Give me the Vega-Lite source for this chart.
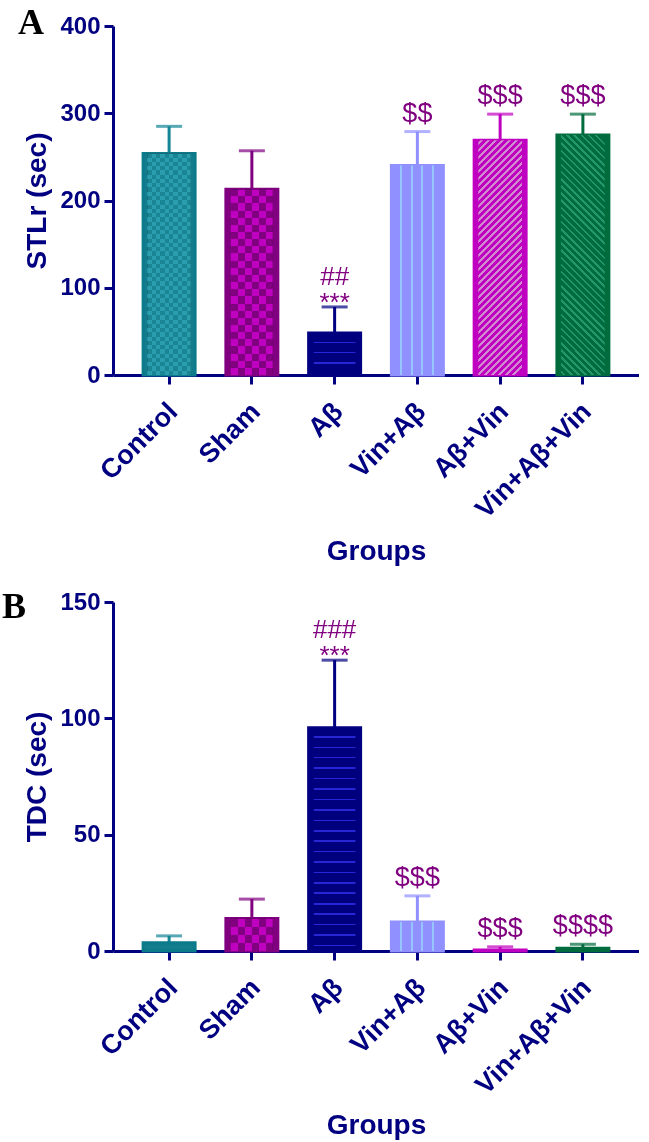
{
  "$schema": "https://vega.github.io/schema/vega-lite/v6.json",
  "padding": {"left": 1, "top": 5, "right": 0, "bottom": 0},
  "spacing": 23,
  "config": {
    "view": {"stroke": null},
    "axis": {
      "grid": false,
      "domainColor": "#000080", "domainWidth": 3,
      "tickColor": "#000080", "tickWidth": 3, "tickSize": 9,
      "labelColor": "#000080", "titleColor": "#000080",
      "labelFont": "Liberation Sans", "titleFont": "Liberation Sans",
      "labelFontWeight": "bold", "titleFontWeight": "bold"
    },
    "title": {"font": "Liberation Serif", "fontWeight": "bold", "fontSize": 36, "color": "#000000"}
  },
  "datasets": {
    "stlr": [
      {"group": "Control", "mean": 254, "hi": 285, "sig": "", "star": "", "hash": ""},
      {"group": "Sham", "mean": 213, "hi": 257, "sig": "", "star": "", "hash": ""},
      {"group": "Aβ", "mean": 48, "hi": 78, "sig": "", "star": "***", "hash": "##"},
      {"group": "Vin+Aβ", "mean": 240, "hi": 279, "sig": "$$", "star": "", "hash": ""},
      {"group": "Aβ+Vin", "mean": 269, "hi": 299, "sig": "$$$", "star": "", "hash": ""},
      {"group": "Vin+Aβ+Vin", "mean": 275, "hi": 299, "sig": "$$$", "star": "", "hash": ""}
    ],
    "tdc": [
      {"group": "Control", "mean": 3.5, "hi": 6.5, "sig": "", "star": "", "hash": ""},
      {"group": "Sham", "mean": 14, "hi": 22.3, "sig": "", "star": "", "hash": ""},
      {"group": "Aβ", "mean": 96, "hi": 125, "sig": "", "star": "***", "hash": "###"},
      {"group": "Vin+Aβ", "mean": 12.5, "hi": 23.7, "sig": "$$$", "star": "", "hash": ""},
      {"group": "Aβ+Vin", "mean": 0.4, "hi": 1.8, "sig": "$$$", "star": "", "hash": ""},
      {"group": "Vin+Aβ+Vin", "mean": 1.2, "hi": 2.9, "sig": "$$$$", "star": "", "hash": ""}
    ]
  },
  "vconcat": [
    {
      "width": 526, "height": 349,
      "title": {"text": "A", "anchor": "start", "frame": "bounds", "offset": -28, "dx": -6},
      "data": {"name": "stlr"},
      "encoding": {
        "x": {
          "field": "group", "type": "nominal", "sort": null,
          "scale": {"paddingInner": 0.372, "paddingOuter": 0.364},
          "axis": {"title": "Groups", "labelAngle": -45, "labelFontSize": 27, "labelPadding": 14, "labelOffset": -5, "titleFontSize": 28, "titlePadding": 15}
        }
      },
      "layer": [
        {
          "mark": {"type": "rule", "strokeWidth": 3},
          "encoding": {
            "y": {"field": "mean", "type": "quantitative", "title": "STLr (sec)"},
            "y2": {"field": "hi"},
            "color": {"field": "group", "type": "nominal", "sort": null, "legend": null,
              "scale": {"domain": ["Control", "Sham", "Aβ", "Vin+Aβ", "Aβ+Vin", "Vin+Aβ+Vin"],
                        "range": ["#138595", "#800080", "#000080", "#9090FF", "#C000C0", "#006B3C"]}}
          }
        },
        {
          "mark": {"type": "tick", "thickness": 3, "size": 26},
          "encoding": {
            "y": {"field": "hi", "type": "quantitative", "title": "STLr (sec)"},
            "color": {"field": "group", "type": "nominal", "sort": null, "legend": null}
          }
        },
        {
          "mark": {"type": "bar", "strokeWidth": 3},
          "encoding": {
            "y": {"field": "mean", "type": "quantitative", "title": "STLr (sec)",
              "scale": {"domain": [0, 400], "nice": false},
              "axis": {"values": [0, 100, 200, 300, 400], "labelFontSize": 24, "labelPadding": 4, "titleFontSize": 28, "titlePadding": 8}},
            "fill": {"field": "group", "type": "nominal", "sort": null, "legend": null,
              "scale": {"domain": ["Control", "Sham", "Aβ", "Vin+Aβ", "Aβ+Vin", "Vin+Aβ+Vin"],
                        "range": ["#137D8D", "#800080", "#00007E", "#9090FF", "#C000C0", "#006B3C"]}},
            "stroke": {"field": "group", "type": "nominal", "sort": null, "legend": null,
              "scale": {"domain": ["Control", "Sham", "Aβ", "Vin+Aβ", "Aβ+Vin", "Vin+Aβ+Vin"],
                        "range": ["#0B7A8A", "#800080", "#000080", "#9090FF", "#C000C0", "#006B3C"]}}
          }
        },
        {
          "transform": [{"filter": "datum.group === 'Control'"}],
          "mark": {"type": "bar", "width": {"band": 0.84},
            "fill": {"gradient": "linear", "x1": 0, "y1": 0, "x2": 1, "y2": 0, "stops": [
              {"offset": 0, "color": "#2A9DAE"}, {"offset": 0.1, "color": "#2A9DAE"}, {"offset": 0.1, "color": "#000000"},
              {"offset": 0.2, "color": "#000000"}, {"offset": 0.2, "color": "#2A9DAE"}, {"offset": 0.3, "color": "#2A9DAE"},
              {"offset": 0.3, "color": "#000000"}, {"offset": 0.4, "color": "#000000"}, {"offset": 0.4, "color": "#2A9DAE"},
              {"offset": 0.5, "color": "#2A9DAE"}, {"offset": 0.5, "color": "#000000"}, {"offset": 0.6, "color": "#000000"},
              {"offset": 0.6, "color": "#2A9DAE"}, {"offset": 0.7, "color": "#2A9DAE"}, {"offset": 0.7, "color": "#000000"},
              {"offset": 0.8, "color": "#000000"}, {"offset": 0.8, "color": "#2A9DAE"}, {"offset": 0.9, "color": "#2A9DAE"},
              {"offset": 0.9, "color": "#000000"}, {"offset": 1, "color": "#000000"}
            ]}},
          "encoding": {"y": {"field": "mean", "type": "quantitative", "title": "STLr (sec)"}}
        },
        {
          "transform": [{"filter": "datum.group === 'Control'"}],
          "mark": {"type": "bar", "width": {"band": 0.84}, "blend": "difference",
            "fill": {"gradient": "linear", "x1": 0, "y1": 0, "x2": 0, "y2": 1, "stops": [
              {"offset": 0, "color": "#2A9DAE"}, {"offset": 0.0192, "color": "#2A9DAE"}, {"offset": 0.0192, "color": "#000000"},
              {"offset": 0.0385, "color": "#000000"}, {"offset": 0.0385, "color": "#2A9DAE"}, {"offset": 0.0577, "color": "#2A9DAE"},
              {"offset": 0.0577, "color": "#000000"}, {"offset": 0.0769, "color": "#000000"}, {"offset": 0.0769, "color": "#2A9DAE"},
              {"offset": 0.0962, "color": "#2A9DAE"}, {"offset": 0.0962, "color": "#000000"}, {"offset": 0.1154, "color": "#000000"},
              {"offset": 0.1154, "color": "#2A9DAE"}, {"offset": 0.1346, "color": "#2A9DAE"}, {"offset": 0.1346, "color": "#000000"},
              {"offset": 0.1538, "color": "#000000"}, {"offset": 0.1538, "color": "#2A9DAE"}, {"offset": 0.1731, "color": "#2A9DAE"},
              {"offset": 0.1731, "color": "#000000"}, {"offset": 0.1923, "color": "#000000"}, {"offset": 0.1923, "color": "#2A9DAE"},
              {"offset": 0.2115, "color": "#2A9DAE"}, {"offset": 0.2115, "color": "#000000"}, {"offset": 0.2308, "color": "#000000"},
              {"offset": 0.2308, "color": "#2A9DAE"}, {"offset": 0.25, "color": "#2A9DAE"}, {"offset": 0.25, "color": "#000000"},
              {"offset": 0.2692, "color": "#000000"}, {"offset": 0.2692, "color": "#2A9DAE"}, {"offset": 0.2885, "color": "#2A9DAE"},
              {"offset": 0.2885, "color": "#000000"}, {"offset": 0.3077, "color": "#000000"}, {"offset": 0.3077, "color": "#2A9DAE"},
              {"offset": 0.3269, "color": "#2A9DAE"}, {"offset": 0.3269, "color": "#000000"}, {"offset": 0.3462, "color": "#000000"},
              {"offset": 0.3462, "color": "#2A9DAE"}, {"offset": 0.3654, "color": "#2A9DAE"}, {"offset": 0.3654, "color": "#000000"},
              {"offset": 0.3846, "color": "#000000"}, {"offset": 0.3846, "color": "#2A9DAE"}, {"offset": 0.4038, "color": "#2A9DAE"},
              {"offset": 0.4038, "color": "#000000"}, {"offset": 0.4231, "color": "#000000"}, {"offset": 0.4231, "color": "#2A9DAE"},
              {"offset": 0.4423, "color": "#2A9DAE"}, {"offset": 0.4423, "color": "#000000"}, {"offset": 0.4615, "color": "#000000"},
              {"offset": 0.4615, "color": "#2A9DAE"}, {"offset": 0.4808, "color": "#2A9DAE"}, {"offset": 0.4808, "color": "#000000"},
              {"offset": 0.5, "color": "#000000"}, {"offset": 0.5, "color": "#2A9DAE"}, {"offset": 0.5192, "color": "#2A9DAE"},
              {"offset": 0.5192, "color": "#000000"}, {"offset": 0.5385, "color": "#000000"}, {"offset": 0.5385, "color": "#2A9DAE"},
              {"offset": 0.5577, "color": "#2A9DAE"}, {"offset": 0.5577, "color": "#000000"}, {"offset": 0.5769, "color": "#000000"},
              {"offset": 0.5769, "color": "#2A9DAE"}, {"offset": 0.5962, "color": "#2A9DAE"}, {"offset": 0.5962, "color": "#000000"},
              {"offset": 0.6154, "color": "#000000"}, {"offset": 0.6154, "color": "#2A9DAE"}, {"offset": 0.6346, "color": "#2A9DAE"},
              {"offset": 0.6346, "color": "#000000"}, {"offset": 0.6538, "color": "#000000"}, {"offset": 0.6538, "color": "#2A9DAE"},
              {"offset": 0.6731, "color": "#2A9DAE"}, {"offset": 0.6731, "color": "#000000"}, {"offset": 0.6923, "color": "#000000"},
              {"offset": 0.6923, "color": "#2A9DAE"}, {"offset": 0.7115, "color": "#2A9DAE"}, {"offset": 0.7115, "color": "#000000"},
              {"offset": 0.7308, "color": "#000000"}, {"offset": 0.7308, "color": "#2A9DAE"}, {"offset": 0.75, "color": "#2A9DAE"},
              {"offset": 0.75, "color": "#000000"}, {"offset": 0.7692, "color": "#000000"}, {"offset": 0.7692, "color": "#2A9DAE"},
              {"offset": 0.7885, "color": "#2A9DAE"}, {"offset": 0.7885, "color": "#000000"}, {"offset": 0.8077, "color": "#000000"},
              {"offset": 0.8077, "color": "#2A9DAE"}, {"offset": 0.8269, "color": "#2A9DAE"}, {"offset": 0.8269, "color": "#000000"},
              {"offset": 0.8462, "color": "#000000"}, {"offset": 0.8462, "color": "#2A9DAE"}, {"offset": 0.8654, "color": "#2A9DAE"},
              {"offset": 0.8654, "color": "#000000"}, {"offset": 0.8846, "color": "#000000"}, {"offset": 0.8846, "color": "#2A9DAE"},
              {"offset": 0.9038, "color": "#2A9DAE"}, {"offset": 0.9038, "color": "#000000"}, {"offset": 0.9231, "color": "#000000"},
              {"offset": 0.9231, "color": "#2A9DAE"}, {"offset": 0.9423, "color": "#2A9DAE"}, {"offset": 0.9423, "color": "#000000"},
              {"offset": 0.9615, "color": "#000000"}, {"offset": 0.9615, "color": "#2A9DAE"}, {"offset": 0.9808, "color": "#2A9DAE"},
              {"offset": 0.9808, "color": "#000000"}, {"offset": 1, "color": "#000000"}
            ]}},
          "encoding": {"y": {"field": "mean", "type": "quantitative", "title": "STLr (sec)"}}
        },
        {
          "transform": [{"filter": "datum.group === 'Control'"}],
          "mark": {"type": "bar", "width": {"band": 0.84}, "blend": "lighten", "fill": "#1A8595"},
          "encoding": {"y": {"field": "mean", "type": "quantitative", "title": "STLr (sec)"}}
        },
        {
          "transform": [{"filter": "datum.group === 'Sham'"}],
          "mark": {"type": "bar", "width": {"band": 0.81},
            "fill": {"gradient": "linear", "x1": 0, "y1": 0, "x2": 1, "y2": 0, "stops": [
              {"offset": 0, "color": "#C000C0"}, {"offset": 0.1667, "color": "#C000C0"}, {"offset": 0.1667, "color": "#000000"},
              {"offset": 0.3333, "color": "#000000"}, {"offset": 0.3333, "color": "#C000C0"}, {"offset": 0.5, "color": "#C000C0"},
              {"offset": 0.5, "color": "#000000"}, {"offset": 0.6667, "color": "#000000"}, {"offset": 0.6667, "color": "#C000C0"},
              {"offset": 0.8333, "color": "#C000C0"}, {"offset": 0.8333, "color": "#000000"}, {"offset": 1, "color": "#000000"}
            ]}},
          "encoding": {"y": {"field": "mean", "type": "quantitative", "title": "STLr (sec)"}}
        },
        {
          "transform": [{"filter": "datum.group === 'Sham'"}],
          "mark": {"type": "bar", "width": {"band": 0.81}, "blend": "difference",
            "fill": {"gradient": "linear", "x1": 0, "y1": 0, "x2": 0, "y2": 1, "stops": [
              {"offset": 0, "color": "#C000C0"}, {"offset": 0.0385, "color": "#C000C0"}, {"offset": 0.0385, "color": "#000000"},
              {"offset": 0.0769, "color": "#000000"}, {"offset": 0.0769, "color": "#C000C0"}, {"offset": 0.1154, "color": "#C000C0"},
              {"offset": 0.1154, "color": "#000000"}, {"offset": 0.1538, "color": "#000000"}, {"offset": 0.1538, "color": "#C000C0"},
              {"offset": 0.1923, "color": "#C000C0"}, {"offset": 0.1923, "color": "#000000"}, {"offset": 0.2308, "color": "#000000"},
              {"offset": 0.2308, "color": "#C000C0"}, {"offset": 0.2692, "color": "#C000C0"}, {"offset": 0.2692, "color": "#000000"},
              {"offset": 0.3077, "color": "#000000"}, {"offset": 0.3077, "color": "#C000C0"}, {"offset": 0.3462, "color": "#C000C0"},
              {"offset": 0.3462, "color": "#000000"}, {"offset": 0.3846, "color": "#000000"}, {"offset": 0.3846, "color": "#C000C0"},
              {"offset": 0.4231, "color": "#C000C0"}, {"offset": 0.4231, "color": "#000000"}, {"offset": 0.4615, "color": "#000000"},
              {"offset": 0.4615, "color": "#C000C0"}, {"offset": 0.5, "color": "#C000C0"}, {"offset": 0.5, "color": "#000000"},
              {"offset": 0.5385, "color": "#000000"}, {"offset": 0.5385, "color": "#C000C0"}, {"offset": 0.5769, "color": "#C000C0"},
              {"offset": 0.5769, "color": "#000000"}, {"offset": 0.6154, "color": "#000000"}, {"offset": 0.6154, "color": "#C000C0"},
              {"offset": 0.6538, "color": "#C000C0"}, {"offset": 0.6538, "color": "#000000"}, {"offset": 0.6923, "color": "#000000"},
              {"offset": 0.6923, "color": "#C000C0"}, {"offset": 0.7308, "color": "#C000C0"}, {"offset": 0.7308, "color": "#000000"},
              {"offset": 0.7692, "color": "#000000"}, {"offset": 0.7692, "color": "#C000C0"}, {"offset": 0.8077, "color": "#C000C0"},
              {"offset": 0.8077, "color": "#000000"}, {"offset": 0.8462, "color": "#000000"}, {"offset": 0.8462, "color": "#C000C0"},
              {"offset": 0.8846, "color": "#C000C0"}, {"offset": 0.8846, "color": "#000000"}, {"offset": 0.9231, "color": "#000000"},
              {"offset": 0.9231, "color": "#C000C0"}, {"offset": 0.9615, "color": "#C000C0"}, {"offset": 0.9615, "color": "#000000"},
              {"offset": 1, "color": "#000000"}
            ]}},
          "encoding": {"y": {"field": "mean", "type": "quantitative", "title": "STLr (sec)"}}
        },
        {
          "transform": [{"filter": "datum.group === 'Sham'"}],
          "mark": {"type": "bar", "width": {"band": 0.81}, "blend": "lighten", "fill": "#800080"},
          "encoding": {"y": {"field": "mean", "type": "quantitative", "title": "STLr (sec)"}}
        },
        {
          "transform": [{"filter": "datum.group === 'Aβ'"}],
          "mark": {"type": "bar", "width": {"band": 0.8},
            "fill": {"gradient": "linear", "x1": 0, "y1": 0, "x2": 0, "y2": 1, "stops": [
              {"offset": 0, "color": "rgba(0,0,0,0)"},
              {"offset": 0.205, "color": "rgba(0,0,0,0)"}, {"offset": 0.205, "color": "#2626D6"}, {"offset": 0.243, "color": "#2626D6"}, {"offset": 0.243, "color": "rgba(0,0,0,0)"},
              {"offset": 0.444, "color": "rgba(0,0,0,0)"}, {"offset": 0.444, "color": "#2626D6"}, {"offset": 0.482, "color": "#2626D6"}, {"offset": 0.482, "color": "rgba(0,0,0,0)"},
              {"offset": 0.697, "color": "rgba(0,0,0,0)"}, {"offset": 0.697, "color": "#2626D6"}, {"offset": 0.735, "color": "#2626D6"}, {"offset": 0.735, "color": "rgba(0,0,0,0)"},
              {"offset": 1, "color": "rgba(0,0,0,0)"}
            ]}},
          "encoding": {"y": {"field": "mean", "type": "quantitative", "title": "STLr (sec)"}}
        },
        {
          "transform": [{"filter": "datum.group === 'Vin+Aβ'"}],
          "mark": {"type": "bar",
            "fill": {"gradient": "linear", "x1": 0, "y1": 0, "x2": 1, "y2": 0, "stops": [
              {"offset": 0, "color": "rgba(0,0,0,0)"},
              {"offset": 0.173, "color": "rgba(0,0,0,0)"}, {"offset": 0.173, "color": "#98C4FF"}, {"offset": 0.211, "color": "#98C4FF"}, {"offset": 0.211, "color": "rgba(0,0,0,0)"},
              {"offset": 0.375, "color": "rgba(0,0,0,0)"}, {"offset": 0.375, "color": "#98C4FF"}, {"offset": 0.413, "color": "#98C4FF"}, {"offset": 0.413, "color": "rgba(0,0,0,0)"},
              {"offset": 0.577, "color": "rgba(0,0,0,0)"}, {"offset": 0.577, "color": "#98C4FF"}, {"offset": 0.615, "color": "#98C4FF"}, {"offset": 0.615, "color": "rgba(0,0,0,0)"},
              {"offset": 0.779, "color": "rgba(0,0,0,0)"}, {"offset": 0.779, "color": "#98C4FF"}, {"offset": 0.817, "color": "#98C4FF"}, {"offset": 0.817, "color": "rgba(0,0,0,0)"},
              {"offset": 1, "color": "rgba(0,0,0,0)"}
            ]}},
          "encoding": {"y": {"field": "mean", "type": "quantitative", "title": "STLr (sec)"}}
        },
        {
          "transform": [{"filter": "datum.group === 'Aβ+Vin'"}],
          "mark": {"type": "bar", "width": {"band": 0.84},
            "fill": {"gradient": "linear", "x1": 0, "y1": 0, "x2": 0.2135, "y2": 1.1465, "stops": [
              {"offset": 0, "color": "rgba(0,0,0,0)"},
              {"offset": 0.0081, "color": "rgba(0,0,0,0)"}, {"offset": 0.0081, "color": "#D08AD0"}, {"offset": 0.0171, "color": "#D08AD0"}, {"offset": 0.0171, "color": "rgba(0,0,0,0)"},
              {"offset": 0.0332, "color": "rgba(0,0,0,0)"}, {"offset": 0.0332, "color": "#D08AD0"}, {"offset": 0.0422, "color": "#D08AD0"}, {"offset": 0.0422, "color": "rgba(0,0,0,0)"},
              {"offset": 0.0584, "color": "rgba(0,0,0,0)"}, {"offset": 0.0584, "color": "#D08AD0"}, {"offset": 0.0674, "color": "#D08AD0"}, {"offset": 0.0674, "color": "rgba(0,0,0,0)"},
              {"offset": 0.0835, "color": "rgba(0,0,0,0)"}, {"offset": 0.0835, "color": "#D08AD0"}, {"offset": 0.0925, "color": "#D08AD0"}, {"offset": 0.0925, "color": "rgba(0,0,0,0)"},
              {"offset": 0.1087, "color": "rgba(0,0,0,0)"}, {"offset": 0.1087, "color": "#D08AD0"}, {"offset": 0.1177, "color": "#D08AD0"}, {"offset": 0.1177, "color": "rgba(0,0,0,0)"},
              {"offset": 0.1338, "color": "rgba(0,0,0,0)"}, {"offset": 0.1338, "color": "#D08AD0"}, {"offset": 0.1428, "color": "#D08AD0"}, {"offset": 0.1428, "color": "rgba(0,0,0,0)"},
              {"offset": 0.1589, "color": "rgba(0,0,0,0)"}, {"offset": 0.1589, "color": "#D08AD0"}, {"offset": 0.1679, "color": "#D08AD0"}, {"offset": 0.1679, "color": "rgba(0,0,0,0)"},
              {"offset": 0.1841, "color": "rgba(0,0,0,0)"}, {"offset": 0.1841, "color": "#D08AD0"}, {"offset": 0.1931, "color": "#D08AD0"}, {"offset": 0.1931, "color": "rgba(0,0,0,0)"},
              {"offset": 0.2092, "color": "rgba(0,0,0,0)"}, {"offset": 0.2092, "color": "#D08AD0"}, {"offset": 0.2182, "color": "#D08AD0"}, {"offset": 0.2182, "color": "rgba(0,0,0,0)"},
              {"offset": 0.2344, "color": "rgba(0,0,0,0)"}, {"offset": 0.2344, "color": "#D08AD0"}, {"offset": 0.2434, "color": "#D08AD0"}, {"offset": 0.2434, "color": "rgba(0,0,0,0)"},
              {"offset": 0.2595, "color": "rgba(0,0,0,0)"}, {"offset": 0.2595, "color": "#D08AD0"}, {"offset": 0.2685, "color": "#D08AD0"}, {"offset": 0.2685, "color": "rgba(0,0,0,0)"},
              {"offset": 0.2846, "color": "rgba(0,0,0,0)"}, {"offset": 0.2846, "color": "#D08AD0"}, {"offset": 0.2936, "color": "#D08AD0"}, {"offset": 0.2936, "color": "rgba(0,0,0,0)"},
              {"offset": 0.3098, "color": "rgba(0,0,0,0)"}, {"offset": 0.3098, "color": "#D08AD0"}, {"offset": 0.3188, "color": "#D08AD0"}, {"offset": 0.3188, "color": "rgba(0,0,0,0)"},
              {"offset": 0.3349, "color": "rgba(0,0,0,0)"}, {"offset": 0.3349, "color": "#D08AD0"}, {"offset": 0.3439, "color": "#D08AD0"}, {"offset": 0.3439, "color": "rgba(0,0,0,0)"},
              {"offset": 0.3601, "color": "rgba(0,0,0,0)"}, {"offset": 0.3601, "color": "#D08AD0"}, {"offset": 0.3691, "color": "#D08AD0"}, {"offset": 0.3691, "color": "rgba(0,0,0,0)"},
              {"offset": 0.3852, "color": "rgba(0,0,0,0)"}, {"offset": 0.3852, "color": "#D08AD0"}, {"offset": 0.3942, "color": "#D08AD0"}, {"offset": 0.3942, "color": "rgba(0,0,0,0)"},
              {"offset": 0.4103, "color": "rgba(0,0,0,0)"}, {"offset": 0.4103, "color": "#D08AD0"}, {"offset": 0.4193, "color": "#D08AD0"}, {"offset": 0.4193, "color": "rgba(0,0,0,0)"},
              {"offset": 0.4355, "color": "rgba(0,0,0,0)"}, {"offset": 0.4355, "color": "#D08AD0"}, {"offset": 0.4445, "color": "#D08AD0"}, {"offset": 0.4445, "color": "rgba(0,0,0,0)"},
              {"offset": 0.4606, "color": "rgba(0,0,0,0)"}, {"offset": 0.4606, "color": "#D08AD0"}, {"offset": 0.4696, "color": "#D08AD0"}, {"offset": 0.4696, "color": "rgba(0,0,0,0)"},
              {"offset": 0.4858, "color": "rgba(0,0,0,0)"}, {"offset": 0.4858, "color": "#D08AD0"}, {"offset": 0.4948, "color": "#D08AD0"}, {"offset": 0.4948, "color": "rgba(0,0,0,0)"},
              {"offset": 0.5109, "color": "rgba(0,0,0,0)"}, {"offset": 0.5109, "color": "#D08AD0"}, {"offset": 0.5199, "color": "#D08AD0"}, {"offset": 0.5199, "color": "rgba(0,0,0,0)"},
              {"offset": 0.536, "color": "rgba(0,0,0,0)"}, {"offset": 0.536, "color": "#D08AD0"}, {"offset": 0.545, "color": "#D08AD0"}, {"offset": 0.545, "color": "rgba(0,0,0,0)"},
              {"offset": 0.5612, "color": "rgba(0,0,0,0)"}, {"offset": 0.5612, "color": "#D08AD0"}, {"offset": 0.5702, "color": "#D08AD0"}, {"offset": 0.5702, "color": "rgba(0,0,0,0)"},
              {"offset": 0.5863, "color": "rgba(0,0,0,0)"}, {"offset": 0.5863, "color": "#D08AD0"}, {"offset": 0.5953, "color": "#D08AD0"}, {"offset": 0.5953, "color": "rgba(0,0,0,0)"},
              {"offset": 0.6115, "color": "rgba(0,0,0,0)"}, {"offset": 0.6115, "color": "#D08AD0"}, {"offset": 0.6205, "color": "#D08AD0"}, {"offset": 0.6205, "color": "rgba(0,0,0,0)"},
              {"offset": 0.6366, "color": "rgba(0,0,0,0)"}, {"offset": 0.6366, "color": "#D08AD0"}, {"offset": 0.6456, "color": "#D08AD0"}, {"offset": 0.6456, "color": "rgba(0,0,0,0)"},
              {"offset": 0.6617, "color": "rgba(0,0,0,0)"}, {"offset": 0.6617, "color": "#D08AD0"}, {"offset": 0.6707, "color": "#D08AD0"}, {"offset": 0.6707, "color": "rgba(0,0,0,0)"},
              {"offset": 0.6869, "color": "rgba(0,0,0,0)"}, {"offset": 0.6869, "color": "#D08AD0"}, {"offset": 0.6959, "color": "#D08AD0"}, {"offset": 0.6959, "color": "rgba(0,0,0,0)"},
              {"offset": 0.712, "color": "rgba(0,0,0,0)"}, {"offset": 0.712, "color": "#D08AD0"}, {"offset": 0.721, "color": "#D08AD0"}, {"offset": 0.721, "color": "rgba(0,0,0,0)"},
              {"offset": 0.7372, "color": "rgba(0,0,0,0)"}, {"offset": 0.7372, "color": "#D08AD0"}, {"offset": 0.7462, "color": "#D08AD0"}, {"offset": 0.7462, "color": "rgba(0,0,0,0)"},
              {"offset": 0.7623, "color": "rgba(0,0,0,0)"}, {"offset": 0.7623, "color": "#D08AD0"}, {"offset": 0.7713, "color": "#D08AD0"}, {"offset": 0.7713, "color": "rgba(0,0,0,0)"},
              {"offset": 0.7874, "color": "rgba(0,0,0,0)"}, {"offset": 0.7874, "color": "#D08AD0"}, {"offset": 0.7964, "color": "#D08AD0"}, {"offset": 0.7964, "color": "rgba(0,0,0,0)"},
              {"offset": 0.8126, "color": "rgba(0,0,0,0)"}, {"offset": 0.8126, "color": "#D08AD0"}, {"offset": 0.8216, "color": "#D08AD0"}, {"offset": 0.8216, "color": "rgba(0,0,0,0)"},
              {"offset": 0.8377, "color": "rgba(0,0,0,0)"}, {"offset": 0.8377, "color": "#D08AD0"}, {"offset": 0.8467, "color": "#D08AD0"}, {"offset": 0.8467, "color": "rgba(0,0,0,0)"},
              {"offset": 0.8629, "color": "rgba(0,0,0,0)"}, {"offset": 0.8629, "color": "#D08AD0"}, {"offset": 0.8719, "color": "#D08AD0"}, {"offset": 0.8719, "color": "rgba(0,0,0,0)"},
              {"offset": 0.888, "color": "rgba(0,0,0,0)"}, {"offset": 0.888, "color": "#D08AD0"}, {"offset": 0.897, "color": "#D08AD0"}, {"offset": 0.897, "color": "rgba(0,0,0,0)"},
              {"offset": 0.9131, "color": "rgba(0,0,0,0)"}, {"offset": 0.9131, "color": "#D08AD0"}, {"offset": 0.9221, "color": "#D08AD0"}, {"offset": 0.9221, "color": "rgba(0,0,0,0)"},
              {"offset": 0.9383, "color": "rgba(0,0,0,0)"}, {"offset": 0.9383, "color": "#D08AD0"}, {"offset": 0.9473, "color": "#D08AD0"}, {"offset": 0.9473, "color": "rgba(0,0,0,0)"},
              {"offset": 0.9634, "color": "rgba(0,0,0,0)"}, {"offset": 0.9634, "color": "#D08AD0"}, {"offset": 0.9724, "color": "#D08AD0"}, {"offset": 0.9724, "color": "rgba(0,0,0,0)"},
              {"offset": 1, "color": "rgba(0,0,0,0)"}
            ]}},
          "encoding": {"y": {"field": "mean", "type": "quantitative", "title": "STLr (sec)"}}
        },
        {
          "transform": [{"filter": "datum.group === 'Vin+Aβ+Vin'"}],
          "mark": {"type": "bar", "width": {"band": 0.84},
            "fill": {"gradient": "linear", "x1": 0, "y1": 1, "x2": 0.2084, "y2": -0.1442, "stops": [
              {"offset": 0, "color": "rgba(0,0,0,0)"},
              {"offset": 0.0081, "color": "rgba(0,0,0,0)"}, {"offset": 0.0081, "color": "#23966A"}, {"offset": 0.0171, "color": "#23966A"}, {"offset": 0.0171, "color": "rgba(0,0,0,0)"},
              {"offset": 0.0332, "color": "rgba(0,0,0,0)"}, {"offset": 0.0332, "color": "#23966A"}, {"offset": 0.0422, "color": "#23966A"}, {"offset": 0.0422, "color": "rgba(0,0,0,0)"},
              {"offset": 0.0584, "color": "rgba(0,0,0,0)"}, {"offset": 0.0584, "color": "#23966A"}, {"offset": 0.0674, "color": "#23966A"}, {"offset": 0.0674, "color": "rgba(0,0,0,0)"},
              {"offset": 0.0835, "color": "rgba(0,0,0,0)"}, {"offset": 0.0835, "color": "#23966A"}, {"offset": 0.0925, "color": "#23966A"}, {"offset": 0.0925, "color": "rgba(0,0,0,0)"},
              {"offset": 0.1087, "color": "rgba(0,0,0,0)"}, {"offset": 0.1087, "color": "#23966A"}, {"offset": 0.1177, "color": "#23966A"}, {"offset": 0.1177, "color": "rgba(0,0,0,0)"},
              {"offset": 0.1338, "color": "rgba(0,0,0,0)"}, {"offset": 0.1338, "color": "#23966A"}, {"offset": 0.1428, "color": "#23966A"}, {"offset": 0.1428, "color": "rgba(0,0,0,0)"},
              {"offset": 0.1589, "color": "rgba(0,0,0,0)"}, {"offset": 0.1589, "color": "#23966A"}, {"offset": 0.1679, "color": "#23966A"}, {"offset": 0.1679, "color": "rgba(0,0,0,0)"},
              {"offset": 0.1841, "color": "rgba(0,0,0,0)"}, {"offset": 0.1841, "color": "#23966A"}, {"offset": 0.1931, "color": "#23966A"}, {"offset": 0.1931, "color": "rgba(0,0,0,0)"},
              {"offset": 0.2092, "color": "rgba(0,0,0,0)"}, {"offset": 0.2092, "color": "#23966A"}, {"offset": 0.2182, "color": "#23966A"}, {"offset": 0.2182, "color": "rgba(0,0,0,0)"},
              {"offset": 0.2344, "color": "rgba(0,0,0,0)"}, {"offset": 0.2344, "color": "#23966A"}, {"offset": 0.2434, "color": "#23966A"}, {"offset": 0.2434, "color": "rgba(0,0,0,0)"},
              {"offset": 0.2595, "color": "rgba(0,0,0,0)"}, {"offset": 0.2595, "color": "#23966A"}, {"offset": 0.2685, "color": "#23966A"}, {"offset": 0.2685, "color": "rgba(0,0,0,0)"},
              {"offset": 0.2846, "color": "rgba(0,0,0,0)"}, {"offset": 0.2846, "color": "#23966A"}, {"offset": 0.2936, "color": "#23966A"}, {"offset": 0.2936, "color": "rgba(0,0,0,0)"},
              {"offset": 0.3098, "color": "rgba(0,0,0,0)"}, {"offset": 0.3098, "color": "#23966A"}, {"offset": 0.3188, "color": "#23966A"}, {"offset": 0.3188, "color": "rgba(0,0,0,0)"},
              {"offset": 0.3349, "color": "rgba(0,0,0,0)"}, {"offset": 0.3349, "color": "#23966A"}, {"offset": 0.3439, "color": "#23966A"}, {"offset": 0.3439, "color": "rgba(0,0,0,0)"},
              {"offset": 0.3601, "color": "rgba(0,0,0,0)"}, {"offset": 0.3601, "color": "#23966A"}, {"offset": 0.3691, "color": "#23966A"}, {"offset": 0.3691, "color": "rgba(0,0,0,0)"},
              {"offset": 0.3852, "color": "rgba(0,0,0,0)"}, {"offset": 0.3852, "color": "#23966A"}, {"offset": 0.3942, "color": "#23966A"}, {"offset": 0.3942, "color": "rgba(0,0,0,0)"},
              {"offset": 0.4103, "color": "rgba(0,0,0,0)"}, {"offset": 0.4103, "color": "#23966A"}, {"offset": 0.4193, "color": "#23966A"}, {"offset": 0.4193, "color": "rgba(0,0,0,0)"},
              {"offset": 0.4355, "color": "rgba(0,0,0,0)"}, {"offset": 0.4355, "color": "#23966A"}, {"offset": 0.4445, "color": "#23966A"}, {"offset": 0.4445, "color": "rgba(0,0,0,0)"},
              {"offset": 0.4606, "color": "rgba(0,0,0,0)"}, {"offset": 0.4606, "color": "#23966A"}, {"offset": 0.4696, "color": "#23966A"}, {"offset": 0.4696, "color": "rgba(0,0,0,0)"},
              {"offset": 0.4858, "color": "rgba(0,0,0,0)"}, {"offset": 0.4858, "color": "#23966A"}, {"offset": 0.4948, "color": "#23966A"}, {"offset": 0.4948, "color": "rgba(0,0,0,0)"},
              {"offset": 0.5109, "color": "rgba(0,0,0,0)"}, {"offset": 0.5109, "color": "#23966A"}, {"offset": 0.5199, "color": "#23966A"}, {"offset": 0.5199, "color": "rgba(0,0,0,0)"},
              {"offset": 0.536, "color": "rgba(0,0,0,0)"}, {"offset": 0.536, "color": "#23966A"}, {"offset": 0.545, "color": "#23966A"}, {"offset": 0.545, "color": "rgba(0,0,0,0)"},
              {"offset": 0.5612, "color": "rgba(0,0,0,0)"}, {"offset": 0.5612, "color": "#23966A"}, {"offset": 0.5702, "color": "#23966A"}, {"offset": 0.5702, "color": "rgba(0,0,0,0)"},
              {"offset": 0.5863, "color": "rgba(0,0,0,0)"}, {"offset": 0.5863, "color": "#23966A"}, {"offset": 0.5953, "color": "#23966A"}, {"offset": 0.5953, "color": "rgba(0,0,0,0)"},
              {"offset": 0.6115, "color": "rgba(0,0,0,0)"}, {"offset": 0.6115, "color": "#23966A"}, {"offset": 0.6205, "color": "#23966A"}, {"offset": 0.6205, "color": "rgba(0,0,0,0)"},
              {"offset": 0.6366, "color": "rgba(0,0,0,0)"}, {"offset": 0.6366, "color": "#23966A"}, {"offset": 0.6456, "color": "#23966A"}, {"offset": 0.6456, "color": "rgba(0,0,0,0)"},
              {"offset": 0.6617, "color": "rgba(0,0,0,0)"}, {"offset": 0.6617, "color": "#23966A"}, {"offset": 0.6707, "color": "#23966A"}, {"offset": 0.6707, "color": "rgba(0,0,0,0)"},
              {"offset": 0.6869, "color": "rgba(0,0,0,0)"}, {"offset": 0.6869, "color": "#23966A"}, {"offset": 0.6959, "color": "#23966A"}, {"offset": 0.6959, "color": "rgba(0,0,0,0)"},
              {"offset": 0.712, "color": "rgba(0,0,0,0)"}, {"offset": 0.712, "color": "#23966A"}, {"offset": 0.721, "color": "#23966A"}, {"offset": 0.721, "color": "rgba(0,0,0,0)"},
              {"offset": 0.7372, "color": "rgba(0,0,0,0)"}, {"offset": 0.7372, "color": "#23966A"}, {"offset": 0.7462, "color": "#23966A"}, {"offset": 0.7462, "color": "rgba(0,0,0,0)"},
              {"offset": 0.7623, "color": "rgba(0,0,0,0)"}, {"offset": 0.7623, "color": "#23966A"}, {"offset": 0.7713, "color": "#23966A"}, {"offset": 0.7713, "color": "rgba(0,0,0,0)"},
              {"offset": 0.7874, "color": "rgba(0,0,0,0)"}, {"offset": 0.7874, "color": "#23966A"}, {"offset": 0.7964, "color": "#23966A"}, {"offset": 0.7964, "color": "rgba(0,0,0,0)"},
              {"offset": 0.8126, "color": "rgba(0,0,0,0)"}, {"offset": 0.8126, "color": "#23966A"}, {"offset": 0.8216, "color": "#23966A"}, {"offset": 0.8216, "color": "rgba(0,0,0,0)"},
              {"offset": 0.8377, "color": "rgba(0,0,0,0)"}, {"offset": 0.8377, "color": "#23966A"}, {"offset": 0.8467, "color": "#23966A"}, {"offset": 0.8467, "color": "rgba(0,0,0,0)"},
              {"offset": 0.8629, "color": "rgba(0,0,0,0)"}, {"offset": 0.8629, "color": "#23966A"}, {"offset": 0.8719, "color": "#23966A"}, {"offset": 0.8719, "color": "rgba(0,0,0,0)"},
              {"offset": 0.888, "color": "rgba(0,0,0,0)"}, {"offset": 0.888, "color": "#23966A"}, {"offset": 0.897, "color": "#23966A"}, {"offset": 0.897, "color": "rgba(0,0,0,0)"},
              {"offset": 0.9131, "color": "rgba(0,0,0,0)"}, {"offset": 0.9131, "color": "#23966A"}, {"offset": 0.9221, "color": "#23966A"}, {"offset": 0.9221, "color": "rgba(0,0,0,0)"},
              {"offset": 0.9383, "color": "rgba(0,0,0,0)"}, {"offset": 0.9383, "color": "#23966A"}, {"offset": 0.9473, "color": "#23966A"}, {"offset": 0.9473, "color": "rgba(0,0,0,0)"},
              {"offset": 0.9634, "color": "rgba(0,0,0,0)"}, {"offset": 0.9634, "color": "#23966A"}, {"offset": 0.9724, "color": "#23966A"}, {"offset": 0.9724, "color": "rgba(0,0,0,0)"},
              {"offset": 1, "color": "rgba(0,0,0,0)"}
            ]}},
          "encoding": {"y": {"field": "mean", "type": "quantitative", "title": "STLr (sec)"}}
        },
        {
          "mark": {"type": "text", "font": "Liberation Sans", "fontSize": 27, "color": "#800080", "baseline": "alphabetic", "dy": -10},
          "encoding": {"y": {"field": "hi", "type": "quantitative", "title": "STLr (sec)"}, "text": {"field": "sig"}}
        },
        {
          "mark": {"type": "text", "font": "Liberation Sans", "fontSize": 26, "color": "#800080", "baseline": "alphabetic", "dy": 4},
          "encoding": {"y": {"field": "hi", "type": "quantitative", "title": "STLr (sec)"}, "text": {"field": "star"}}
        },
        {
          "mark": {"type": "text", "font": "Liberation Sans", "fontSize": 26, "color": "#800080", "baseline": "alphabetic", "dy": -22},
          "encoding": {"y": {"field": "hi", "type": "quantitative", "title": "STLr (sec)"}, "text": {"field": "hash"}}
        }
      ]
    },
    {
      "width": 526, "height": 349,
      "title": {"text": "B", "anchor": "start", "frame": "bounds", "offset": -36, "dx": -22},
      "data": {"name": "tdc"},
      "encoding": {
        "x": {
          "field": "group", "type": "nominal", "sort": null,
          "scale": {"paddingInner": 0.372, "paddingOuter": 0.364},
          "axis": {"title": "Groups", "labelAngle": -45, "labelFontSize": 27, "labelPadding": 14, "labelOffset": -5, "titleFontSize": 28, "titlePadding": 13}
        }
      },
      "layer": [
        {
          "mark": {"type": "rule", "strokeWidth": 3},
          "encoding": {
            "y": {"field": "mean", "type": "quantitative", "title": "TDC (sec)"},
            "y2": {"field": "hi"},
            "color": {"field": "group", "type": "nominal", "sort": null, "legend": null,
              "scale": {"domain": ["Control", "Sham", "Aβ", "Vin+Aβ", "Aβ+Vin", "Vin+Aβ+Vin"],
                        "range": ["#138595", "#800080", "#000080", "#9090FF", "#C000C0", "#006B3C"]}}
          }
        },
        {
          "mark": {"type": "tick", "thickness": 3, "size": 26},
          "encoding": {
            "y": {"field": "hi", "type": "quantitative", "title": "TDC (sec)"},
            "color": {"field": "group", "type": "nominal", "sort": null, "legend": null}
          }
        },
        {
          "mark": {"type": "bar", "strokeWidth": 3},
          "encoding": {
            "y": {"field": "mean", "type": "quantitative", "title": "TDC (sec)",
              "scale": {"domain": [0, 150], "nice": false},
              "axis": {"values": [0, 50, 100, 150], "labelFontSize": 24, "labelPadding": 4, "titleFontSize": 28, "titlePadding": 8}},
            "fill": {"field": "group", "type": "nominal", "sort": null, "legend": null,
              "scale": {"domain": ["Control", "Sham", "Aβ", "Vin+Aβ", "Aβ+Vin", "Vin+Aβ+Vin"],
                        "range": ["#1F8FA0", "#800080", "#00007E", "#9090FF", "#C000C0", "#006B3C"]}},
            "stroke": {"field": "group", "type": "nominal", "sort": null, "legend": null,
              "scale": {"domain": ["Control", "Sham", "Aβ", "Vin+Aβ", "Aβ+Vin", "Vin+Aβ+Vin"],
                        "range": ["#0B7A8A", "#800080", "#000080", "#9090FF", "#C000C0", "#006B3C"]}}
          }
        },
        {
          "transform": [{"filter": "datum.group === 'Sham'"}],
          "mark": {"type": "bar", "width": {"band": 0.81},
            "fill": {"gradient": "linear", "x1": 0, "y1": 0, "x2": 1, "y2": 0, "stops": [
              {"offset": 0, "color": "#C000C0"}, {"offset": 0.1667, "color": "#C000C0"}, {"offset": 0.1667, "color": "#000000"},
              {"offset": 0.3333, "color": "#000000"}, {"offset": 0.3333, "color": "#C000C0"}, {"offset": 0.5, "color": "#C000C0"},
              {"offset": 0.5, "color": "#000000"}, {"offset": 0.6667, "color": "#000000"}, {"offset": 0.6667, "color": "#C000C0"},
              {"offset": 0.8333, "color": "#C000C0"}, {"offset": 0.8333, "color": "#000000"}, {"offset": 1, "color": "#000000"}
            ]}},
          "encoding": {"y": {"field": "mean", "type": "quantitative", "title": "TDC (sec)"}}
        },
        {
          "transform": [{"filter": "datum.group === 'Sham'"}],
          "mark": {"type": "bar", "width": {"band": 0.81}, "blend": "difference",
            "fill": {"gradient": "linear", "x1": 0, "y1": 0, "x2": 0, "y2": 1, "stops": [
              {"offset": 0, "color": "#C000C0"}, {"offset": 0.25, "color": "#C000C0"}, {"offset": 0.25, "color": "#000000"},
              {"offset": 0.5, "color": "#000000"}, {"offset": 0.5, "color": "#C000C0"}, {"offset": 0.75, "color": "#C000C0"},
              {"offset": 0.75, "color": "#000000"}, {"offset": 1, "color": "#000000"}
            ]}},
          "encoding": {"y": {"field": "mean", "type": "quantitative", "title": "TDC (sec)"}}
        },
        {
          "transform": [{"filter": "datum.group === 'Sham'"}],
          "mark": {"type": "bar", "width": {"band": 0.81}, "blend": "lighten", "fill": "#800080"},
          "encoding": {"y": {"field": "mean", "type": "quantitative", "title": "TDC (sec)"}}
        },
        {
          "transform": [{"filter": "datum.group === 'Aβ'"}],
          "mark": {"type": "bar", "width": {"band": 0.8},
            "fill": {"gradient": "linear", "x1": 0, "y1": 0, "x2": 0, "y2": 1, "stops": [
              {"offset": 0, "color": "rgba(0,0,0,0)"},
              {"offset": 0.038, "color": "rgba(0,0,0,0)"}, {"offset": 0.038, "color": "#2626D6"}, {"offset": 0.045, "color": "#2626D6"}, {"offset": 0.045, "color": "rgba(0,0,0,0)"},
              {"offset": 0.085, "color": "rgba(0,0,0,0)"}, {"offset": 0.085, "color": "#2626D6"}, {"offset": 0.092, "color": "#2626D6"}, {"offset": 0.092, "color": "rgba(0,0,0,0)"},
              {"offset": 0.131, "color": "rgba(0,0,0,0)"}, {"offset": 0.131, "color": "#2626D6"}, {"offset": 0.138, "color": "#2626D6"}, {"offset": 0.138, "color": "rgba(0,0,0,0)"},
              {"offset": 0.178, "color": "rgba(0,0,0,0)"}, {"offset": 0.178, "color": "#2626D6"}, {"offset": 0.185, "color": "#2626D6"}, {"offset": 0.185, "color": "rgba(0,0,0,0)"},
              {"offset": 0.225, "color": "rgba(0,0,0,0)"}, {"offset": 0.225, "color": "#2626D6"}, {"offset": 0.232, "color": "#2626D6"}, {"offset": 0.232, "color": "rgba(0,0,0,0)"},
              {"offset": 0.272, "color": "rgba(0,0,0,0)"}, {"offset": 0.272, "color": "#2626D6"}, {"offset": 0.279, "color": "#2626D6"}, {"offset": 0.279, "color": "rgba(0,0,0,0)"},
              {"offset": 0.318, "color": "rgba(0,0,0,0)"}, {"offset": 0.318, "color": "#2626D6"}, {"offset": 0.325, "color": "#2626D6"}, {"offset": 0.325, "color": "rgba(0,0,0,0)"},
              {"offset": 0.365, "color": "rgba(0,0,0,0)"}, {"offset": 0.365, "color": "#2626D6"}, {"offset": 0.372, "color": "#2626D6"}, {"offset": 0.372, "color": "rgba(0,0,0,0)"},
              {"offset": 0.412, "color": "rgba(0,0,0,0)"}, {"offset": 0.412, "color": "#2626D6"}, {"offset": 0.419, "color": "#2626D6"}, {"offset": 0.419, "color": "rgba(0,0,0,0)"},
              {"offset": 0.458, "color": "rgba(0,0,0,0)"}, {"offset": 0.458, "color": "#2626D6"}, {"offset": 0.465, "color": "#2626D6"}, {"offset": 0.465, "color": "rgba(0,0,0,0)"},
              {"offset": 0.505, "color": "rgba(0,0,0,0)"}, {"offset": 0.505, "color": "#2626D6"}, {"offset": 0.512, "color": "#2626D6"}, {"offset": 0.512, "color": "rgba(0,0,0,0)"},
              {"offset": 0.552, "color": "rgba(0,0,0,0)"}, {"offset": 0.552, "color": "#2626D6"}, {"offset": 0.559, "color": "#2626D6"}, {"offset": 0.559, "color": "rgba(0,0,0,0)"},
              {"offset": 0.598, "color": "rgba(0,0,0,0)"}, {"offset": 0.598, "color": "#2626D6"}, {"offset": 0.605, "color": "#2626D6"}, {"offset": 0.605, "color": "rgba(0,0,0,0)"},
              {"offset": 0.645, "color": "rgba(0,0,0,0)"}, {"offset": 0.645, "color": "#2626D6"}, {"offset": 0.652, "color": "#2626D6"}, {"offset": 0.652, "color": "rgba(0,0,0,0)"},
              {"offset": 0.692, "color": "rgba(0,0,0,0)"}, {"offset": 0.692, "color": "#2626D6"}, {"offset": 0.699, "color": "#2626D6"}, {"offset": 0.699, "color": "rgba(0,0,0,0)"},
              {"offset": 0.738, "color": "rgba(0,0,0,0)"}, {"offset": 0.738, "color": "#2626D6"}, {"offset": 0.745, "color": "#2626D6"}, {"offset": 0.745, "color": "rgba(0,0,0,0)"},
              {"offset": 0.785, "color": "rgba(0,0,0,0)"}, {"offset": 0.785, "color": "#2626D6"}, {"offset": 0.792, "color": "#2626D6"}, {"offset": 0.792, "color": "rgba(0,0,0,0)"},
              {"offset": 0.832, "color": "rgba(0,0,0,0)"}, {"offset": 0.832, "color": "#2626D6"}, {"offset": 0.839, "color": "#2626D6"}, {"offset": 0.839, "color": "rgba(0,0,0,0)"},
              {"offset": 0.878, "color": "rgba(0,0,0,0)"}, {"offset": 0.878, "color": "#2626D6"}, {"offset": 0.885, "color": "#2626D6"}, {"offset": 0.885, "color": "rgba(0,0,0,0)"},
              {"offset": 0.925, "color": "rgba(0,0,0,0)"}, {"offset": 0.925, "color": "#2626D6"}, {"offset": 0.932, "color": "#2626D6"}, {"offset": 0.932, "color": "rgba(0,0,0,0)"},
              {"offset": 0.972, "color": "rgba(0,0,0,0)"}, {"offset": 0.972, "color": "#2626D6"}, {"offset": 0.979, "color": "#2626D6"}, {"offset": 0.979, "color": "rgba(0,0,0,0)"},
              {"offset": 1, "color": "rgba(0,0,0,0)"}
            ]}},
          "encoding": {"y": {"field": "mean", "type": "quantitative", "title": "TDC (sec)"}}
        },
        {
          "transform": [{"filter": "datum.group === 'Vin+Aβ'"}],
          "mark": {"type": "bar",
            "fill": {"gradient": "linear", "x1": 0, "y1": 0, "x2": 1, "y2": 0, "stops": [
              {"offset": 0, "color": "rgba(0,0,0,0)"},
              {"offset": 0.173, "color": "rgba(0,0,0,0)"}, {"offset": 0.173, "color": "#98C4FF"}, {"offset": 0.211, "color": "#98C4FF"}, {"offset": 0.211, "color": "rgba(0,0,0,0)"},
              {"offset": 0.375, "color": "rgba(0,0,0,0)"}, {"offset": 0.375, "color": "#98C4FF"}, {"offset": 0.413, "color": "#98C4FF"}, {"offset": 0.413, "color": "rgba(0,0,0,0)"},
              {"offset": 0.577, "color": "rgba(0,0,0,0)"}, {"offset": 0.577, "color": "#98C4FF"}, {"offset": 0.615, "color": "#98C4FF"}, {"offset": 0.615, "color": "rgba(0,0,0,0)"},
              {"offset": 0.779, "color": "rgba(0,0,0,0)"}, {"offset": 0.779, "color": "#98C4FF"}, {"offset": 0.817, "color": "#98C4FF"}, {"offset": 0.817, "color": "rgba(0,0,0,0)"},
              {"offset": 1, "color": "rgba(0,0,0,0)"}
            ]}},
          "encoding": {"y": {"field": "mean", "type": "quantitative", "title": "TDC (sec)"}}
        },
        {
          "mark": {"type": "text", "font": "Liberation Sans", "fontSize": 27, "color": "#800080", "baseline": "alphabetic", "dy": -10},
          "encoding": {"y": {"field": "hi", "type": "quantitative", "title": "TDC (sec)"}, "text": {"field": "sig"}}
        },
        {
          "mark": {"type": "text", "font": "Liberation Sans", "fontSize": 26, "color": "#800080", "baseline": "alphabetic", "dy": 4},
          "encoding": {"y": {"field": "hi", "type": "quantitative", "title": "TDC (sec)"}, "text": {"field": "star"}}
        },
        {
          "mark": {"type": "text", "font": "Liberation Sans", "fontSize": 26, "color": "#800080", "baseline": "alphabetic", "dy": -22},
          "encoding": {"y": {"field": "hi", "type": "quantitative", "title": "TDC (sec)"}, "text": {"field": "hash"}}
        }
      ]
    }
  ]
}
